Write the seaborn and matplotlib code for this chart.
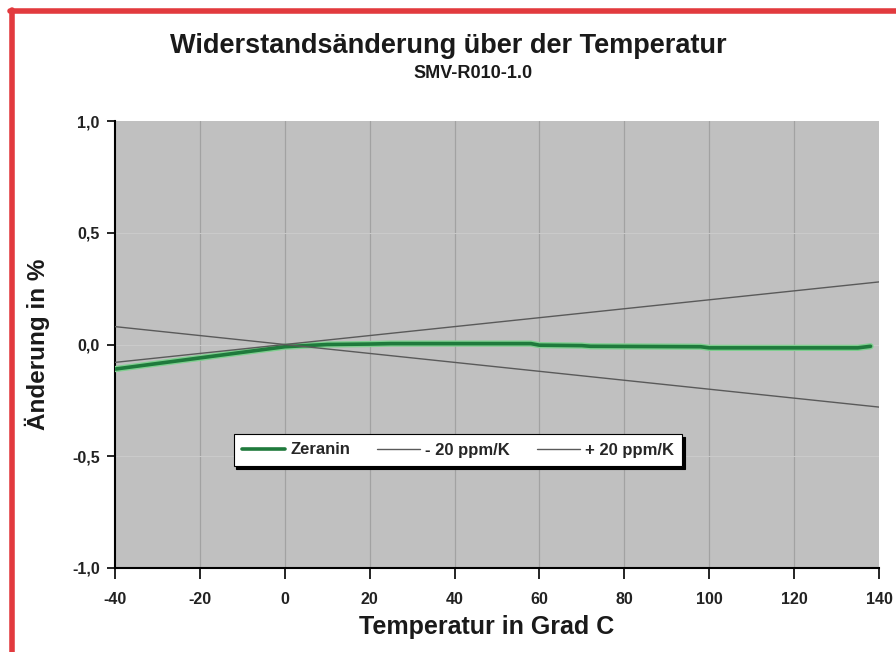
import matplotlib
matplotlib.use("Agg")
import matplotlib.pyplot as plt
import matplotlib.lines as mlines
import seaborn as sns
import pandas as pd
from matplotlib.ticker import FuncFormatter

# ---- data ----
zeranin_temp = [-40, -30, -20, -10, 0, 5, 10, 20, 25, 40, 58, 60, 70, 72, 98, 100, 120, 135, 138]
zeranin_val = [-0.11, -0.085, -0.06, -0.035, -0.01, -0.005, 0.0, 0.002, 0.004, 0.004, 0.004, -0.003, -0.005, -0.008, -0.01, -0.015, -0.015, -0.015, -0.008]
ref_temp = [-40, 140]
minus20_val = [0.08, -0.28]
plus20_val = [-0.08, 0.28]
x_ticks = [-40, -20, 0, 20, 40, 60, 80, 100, 120, 140]
y_ticks = [-1.0, -0.5, 0.0, 0.5, 1.0]

sns.set_style("white")
plt.rcParams['font.family'] = ['Liberation Sans', 'DejaVu Sans']
plt.rcParams['font.weight'] = 'bold'
plt.rcParams['axes.unicode_minus'] = False

L, R, T, B = 115, 879, 121, 568
fig = plt.figure(figsize=(8.96, 6.52), dpi=100)
ax = fig.add_axes([L/896, 1-B/652, (R-L)/896, (B-T)/652])
ax.set_facecolor('#c0c0c0')

df_z = pd.DataFrame({'T': zeranin_temp, 'v': zeranin_val})
df_m = pd.DataFrame({'T': ref_temp, 'v': minus20_val})
df_p = pd.DataFrame({'T': ref_temp, 'v': plus20_val})

for xt in x_ticks[1:-1]:
    ax.axvline(xt, color='#a2a2a2', lw=0.9, zorder=1)
for yt in [-0.5, 0.0, 0.5]:
    ax.axhline(yt, color='#cbcbcb', lw=0.7, zorder=1)

sns.lineplot(data=df_z, x='T', y='v', ax=ax, color='#7fcf8f', lw=4.5, zorder=3, estimator=None, sort=False)
sns.lineplot(data=df_z, x='T', y='v', ax=ax, color='#1f7a3c', lw=2.6, zorder=4, estimator=None, sort=False)
sns.lineplot(data=df_m, x='T', y='v', ax=ax, color='#5a5a5a', lw=1.0, zorder=5, estimator=None)
sns.lineplot(data=df_p, x='T', y='v', ax=ax, color='#5a5a5a', lw=1.0, zorder=5, estimator=None)

ax.set_xlim(-40, 140)
ax.set_ylim(-1.0, 1.0)
ax.set_xticks(x_ticks)
ax.set_yticks(y_ticks)
ax.yaxis.set_major_formatter(FuncFormatter(lambda v, p: f"{v:.1f}".replace('.', ',').replace('-0,0', '0,0')))
ax.tick_params(axis='both', direction='out', width=1.2, color='black',
               labelsize=11.5, left=True, bottom=True, labelcolor='#222222')
ax.tick_params(axis='x', length=8, pad=9)
ax.tick_params(axis='y', length=6, pad=5)
for lab in ax.get_xticklabels() + ax.get_yticklabels():
    lab.set_fontweight('bold')
for s in ['top', 'right']:
    ax.spines[s].set_visible(False)
for s in ['left', 'bottom']:
    ax.spines[s].set_color('black')
    ax.spines[s].set_linewidth(1.5)

ax.set_xlabel('Temperatur in Grad C', fontsize=18, fontweight='bold', color='#1a1a1a', labelpad=8)
ax.xaxis.set_label_coords(0.487, -0.105)
ax.xaxis.label.set_va('top')
ax.set_ylabel('Änderung in %', fontsize=17.5, fontweight='bold', color='#1a1a1a', labelpad=16)

fig.text(448/896, 1-46/652, 'Widerstandsänderung über der Temperatur', ha='center', va='center',
         fontsize=19.5, fontweight='bold', color='#1a1a1a')
fig.text(473/896, 1-74/652, 'SMV-R010-1.0', ha='center', va='center',
         fontsize=13, fontweight='bold', color='#1a1a1a')

handles = [mlines.Line2D([], [], color='#1f7a3c', lw=2.6),
           mlines.Line2D([], [], color='#5a5a5a', lw=1.0),
           mlines.Line2D([], [], color='#5a5a5a', lw=1.0)]
leg = ax.legend(handles, ['Zeranin', '- 20 ppm/K', '+ 20 ppm/K'], loc='center',
                bbox_to_anchor=((458-L)/(R-L), (B-450)/(B-T)), ncol=3, fontsize=12,
                frameon=True, fancybox=False, edgecolor='black', framealpha=1,
                handlelength=2.6, handletextpad=0.3, columnspacing=1.6,
                borderpad=0.5, shadow={'ox': 2, 'oy': -2, 'color': 'black', 'alpha': 1})
leg.get_frame().set_linewidth(0.8)
for t in leg.get_texts():
    t.set_fontweight('bold')

# red border (top and left)
fig.add_artist(mlines.Line2D([10/896, 1.0], [1-11/652, 1-11/652], color='#e23a3e', lw=4, transform=fig.transFigure))
fig.add_artist(mlines.Line2D([12/896, 12/896], [0, 1-10/652], color='#e23a3e', lw=4, transform=fig.transFigure))

fig.savefig('out.png', dpi=100, facecolor='white')
